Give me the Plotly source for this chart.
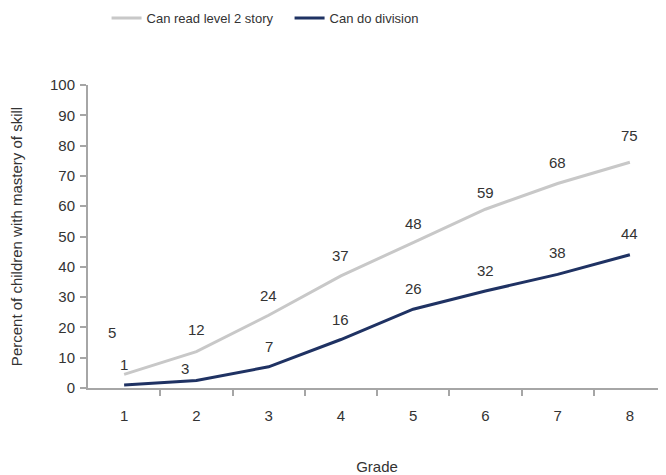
import plotly.graph_objects as go

grades = [1, 2, 3, 4, 5, 6, 7, 8]
grade_labels = ["1", "2", "3", "4", "5", "6", "7", "8"]
read_values = [4.5, 12, 24, 37, 48, 59, 67.5, 74.5]
read_labels = ["5", "12", "24", "37", "48", "59", "68", "75"]
div_values = [1, 2.5, 7, 16, 26, 32, 37.5, 44]
div_labels = ["1", "3", "7", "16", "26", "32", "38", "44"]
y_ticks = [0, 10, 20, 30, 40, 50, 60, 70, 80, 90, 100]

GREY = "#c8c8c8"
NAVY = "#1f3263"
TXT = "#333333"
AX = "#a6a6a6"
FONT = "Liberation Sans"
FS = 15

# label offsets (styling only)
read_shift = [(-12, 42), (0, 22), (0, 20), (0, 20), (0, 19), (0, 17), (0, 21), (0, 27)]
div_shift = [(0, 20), (-11, 12), (0, 20), (0, 20), (0, 21), (0, 21), (0, 22), (0, 21)]

fig = go.Figure()
fig.add_trace(go.Scatter(x=grades, y=read_values, mode="lines", name="Can read level 2 story",
                         line=dict(color=GREY, width=3)))
fig.add_trace(go.Scatter(x=grades, y=div_values, mode="lines", name="Can do division",
                         line=dict(color=NAVY, width=3)))

ann = []
for g, v, t, (dx, dy) in zip(grades, read_values, read_labels, read_shift):
    ann.append(dict(x=g, y=v, text=t, showarrow=False, xshift=dx, yshift=dy,
                    font=dict(family=FONT, size=FS, color=TXT)))
for g, v, t, (dx, dy) in zip(grades, div_values, div_labels, div_shift):
    ann.append(dict(x=g, y=v, text=t, showarrow=False, xshift=dx, yshift=dy,
                    font=dict(family=FONT, size=FS, color=TXT)))

fig.update_layout(
    width=666, height=475,
    margin=dict(l=80, r=8, t=77, b=95),
    paper_bgcolor="white", plot_bgcolor="white",
    font=dict(family=FONT, size=FS, color=TXT),
    showlegend=True,
    legend=dict(orientation="h", x=0.148, xanchor="left", y=0.979, yanchor="middle",
                xref="container", yref="container",
                font=dict(family=FONT, size=13, color=TXT),
                entrywidth=138, entrywidthmode="pixels", tracegroupgap=0),
    annotations=ann,
    xaxis=dict(
        range=[0.5, 8.5], tickmode="array", tickvals=grades, ticktext=grade_labels,
        showgrid=False, zeroline=False, showline=True, linecolor=AX, linewidth=2,
        ticks="", ticklen=0, automargin=False, ticklabelstandoff=13,
        title=dict(text="Grade", standoff=38, font=dict(family=FONT, size=FS, color=TXT)),
        tickfont=dict(family=FONT, size=FS, color=TXT),
        minor=dict(tickmode="array", tickvals=[g + 0.5 for g in grades[:-1]] + [8.5],
                   ticks="outside", ticklen=6, tickcolor=AX, tickwidth=1.5),
    ),
    yaxis=dict(
        range=[0, 100], tickmode="array", tickvals=y_ticks,
        showgrid=False, zeroline=False, showline=True, linecolor=AX, linewidth=2,
        ticks="outside", ticklen=6, tickcolor=AX, tickwidth=1.5, automargin=False,
        ticklabelstandoff=2,
        tickfont=dict(family=FONT, size=FS, color=TXT),
        title=dict(text="Percent of children with mastery of skill", standoff=25,
                   font=dict(family=FONT, size=FS, color=TXT)),
    ),
)
fig.write_html("out.html")
